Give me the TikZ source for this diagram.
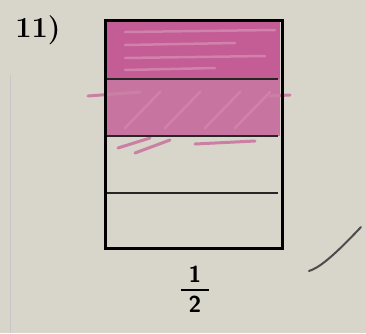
\documentclass[tikz,border=0pt]{standalone}
\usetikzlibrary{positioning}
\definecolor{paper}{RGB}{216,213,202}
\definecolor{crayon}{RGB}{196,92,150}
\definecolor{crayonlight}{RGB}{208,130,170}

\begin{document}
\begin{tikzpicture}[
    x=1pt, y=-1pt,
    box/.style={draw=black, line width=3pt},
    part/.style={draw=black!85, line width=1.2pt},
    streak/.style={crayonlight, line width=2.5pt, line cap=round},
    scribble/.style={crayon!70!paper, line width=3pt, line cap=round},
    label/.style={font=\bfseries\fontsize{29}{31}\selectfont},
    digit/.style={font=\sffamily\bfseries\fontsize{23}{25}\selectfont, inner sep=0pt}
]

% --- paper ---
\fill[paper] (0,0) rectangle (366,333);
\useasboundingbox (0,0) rectangle (366,333);
\draw[black!22, line width=1pt] (10,75) -- (10,333);

% --- coloured parts ---
\fill[crayon] (105,22) rectangle (280,79);
\fill[crayon!80!paper] (105,79) rectangle (280,136);
\foreach \y/\l in {32/150,45/110,58/140,70/90}
    \draw[streak] (125,\y) -- ({125+\l},{\y-2});
\foreach \x in {125,165,205,235}
    \draw[streak] (\x,128) -- ({\x+35},92);
\draw[scribble] (88,96) -- (140,92);
\draw[scribble] (270,96) -- (290,95);
\draw[scribble] (118,148) -- (150,138);
\draw[scribble] (135,153) -- (170,140);
\draw[scribble] (195,144) -- (255,141);

% --- box and its parts ---
\draw[part] (107,79) -- (278,79);
\draw[part] (107,136) -- (278,136);
\draw[part] (107,193) -- (278,193);
\draw[box] (105,20) rectangle (282,248);

% --- labels ---
\node[label] (num) at (38,30) {11)};
\node[digit] (one) at (195,274) {1};
\node[digit] (two) at (195,304) {2};
\draw[line width=1.8pt] (181,290) -- (209,290);

% --- check mark ---
\draw[black!70, line width=2pt, line cap=round]
    (309,271) .. controls (318,268) and (330,260) .. (361,227);

\end{tikzpicture}
\end{document}
